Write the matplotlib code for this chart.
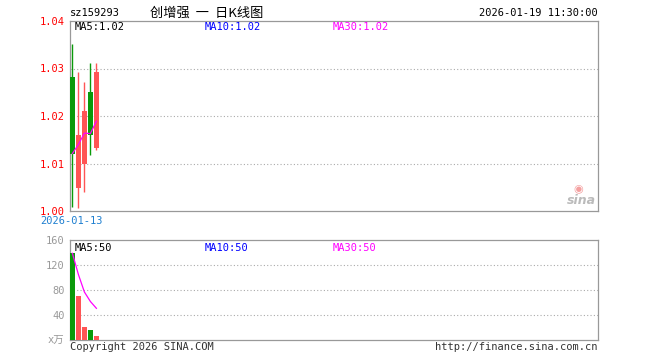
import matplotlib
matplotlib.use("Agg")
import matplotlib.pyplot as plt
import numpy as np

# daily K data
opens = [1.0282, 1.0049, 1.0099, 1.0251, 1.0132]
closes = [1.0121, 1.0160, 1.0211, 1.0160, 1.0293]
highs = [1.0352, 1.0293, 1.0272, 1.0312, 1.0312]
lows = [1.0008, 1.0007, 1.0039, 1.0118, 1.0128]
ma_price = [1.0121, 1.0140, 1.0164, 1.0163, 1.0189]
volumes = [138.7, 70.9, 20.8, 16.0, 6.9]
ma_vol = [138.7, 104.8, 76.8, 61.6, 50.7]

price_ticks = [1.00, 1.01, 1.02, 1.03, 1.04]
vol_ticks = [0, 40, 80, 120, 160]
vol_labels = ['x万', '40', '80', '120', '160']

RED = '#ff5555'
GREEN = '#0a9a0a'
MAG = '#ff00ff'
BLUE = '#0000ff'
EDGE = '#999999'
mono = 'DejaVu Sans Mono'

fig = plt.figure(figsize=(6.6, 3.6), dpi=100)
ax = fig.add_axes([70/660, 1-211/360, 528/660, 190/360])
axv = fig.add_axes([70/660, 1-340/360, 528/660, 100/360])

x = np.arange(len(opens))
for a in (ax, axv):
    a.set_xlim(-0.4, -0.4 + 528/6)
    for s in a.spines.values():
        s.set_color(EDGE)
        s.set_linewidth(0.9)
    a.set_xticks([])
    a.tick_params(axis='y', length=0, pad=4)

# candles
for i in x:
    c = RED if closes[i] >= opens[i] else GREEN
    ax.vlines(i, lows[i], highs[i], color=c, linewidth=1.0, zorder=3)
    lo, hi = sorted([opens[i], closes[i]])
    ax.bar(i, hi - lo, bottom=lo, width=0.8, color=c, zorder=3)
ax.plot(x, ma_price, color=MAG, linewidth=0.9, zorder=4)
ax.set_ylim(1.00, 1.04)
ax.set_yticks(price_ticks)
ax.set_yticklabels(['%.2f' % t for t in price_ticks], color='red',
                   family=mono, fontsize=7.5)
for t in price_ticks[1:-1]:
    ax.axhline(t, color='#aaaaaa', linestyle=(0, (1, 2)), linewidth=0.8, zorder=1)

# volume
for i in x:
    c = RED if closes[i] >= opens[i] else GREEN
    axv.bar(i, volumes[i], width=0.8, color=c, zorder=3)
axv.plot(x, ma_vol, color=MAG, linewidth=0.9, zorder=4)
axv.set_ylim(0, 160)
axv.set_yticks(vol_ticks)
axv.set_yticklabels(vol_labels, color='#999999', fontsize=7.5,
                    family=[mono, 'Noto Sans CJK SC'])
for t in vol_ticks[1:-1]:
    axv.axhline(t, color='#aaaaaa', linestyle=(0, (1, 2)), linewidth=0.8, zorder=1)

# texts
def ftxt(px, py, s, **kw):
    kw.setdefault('family', mono)
    kw.setdefault('fontsize', 7.5)
    fig.text(px/660, 1-py/360, s, va='center', **kw)

ftxt(70, 13, 'sz159293', color='black')
ftxt(150, 13, '创增强  一  日K线图', color='black',
     family=['Noto Sans CJK SC', 'DejaVu Sans'], fontsize=9.5)
ftxt(598, 13, '2026-01-19 11:30:00', color='black', ha='right')
ftxt(75, 27, 'MA5:1.02', color='black')
ftxt(205, 27, 'MA10:1.02', color=BLUE)
ftxt(333, 27, 'MA30:1.02', color=MAG)
ftxt(40, 221, '2026-01-13', color='#1e7fd0')
ftxt(75, 248, 'MA5:50', color='black')
ftxt(205, 248, 'MA10:50', color=BLUE)
ftxt(333, 248, 'MA30:50', color=MAG)
ftxt(70, 347, 'Copyright 2026 SINA.COM', color='#333333')
ftxt(598, 347, 'http://finance.sina.com.cn', color='#333333', ha='right')

# sina watermark
ftxt(596, 200, 'sina', color='#bbbbbb', ha='right', family='DejaVu Sans',
     fontsize=9, fontweight='bold', style='italic')
ftxt(578, 189, '◉', color='#f4a0a0', ha='center', family='DejaVu Sans', fontsize=8)

fig.savefig('out.png', dpi=100)
